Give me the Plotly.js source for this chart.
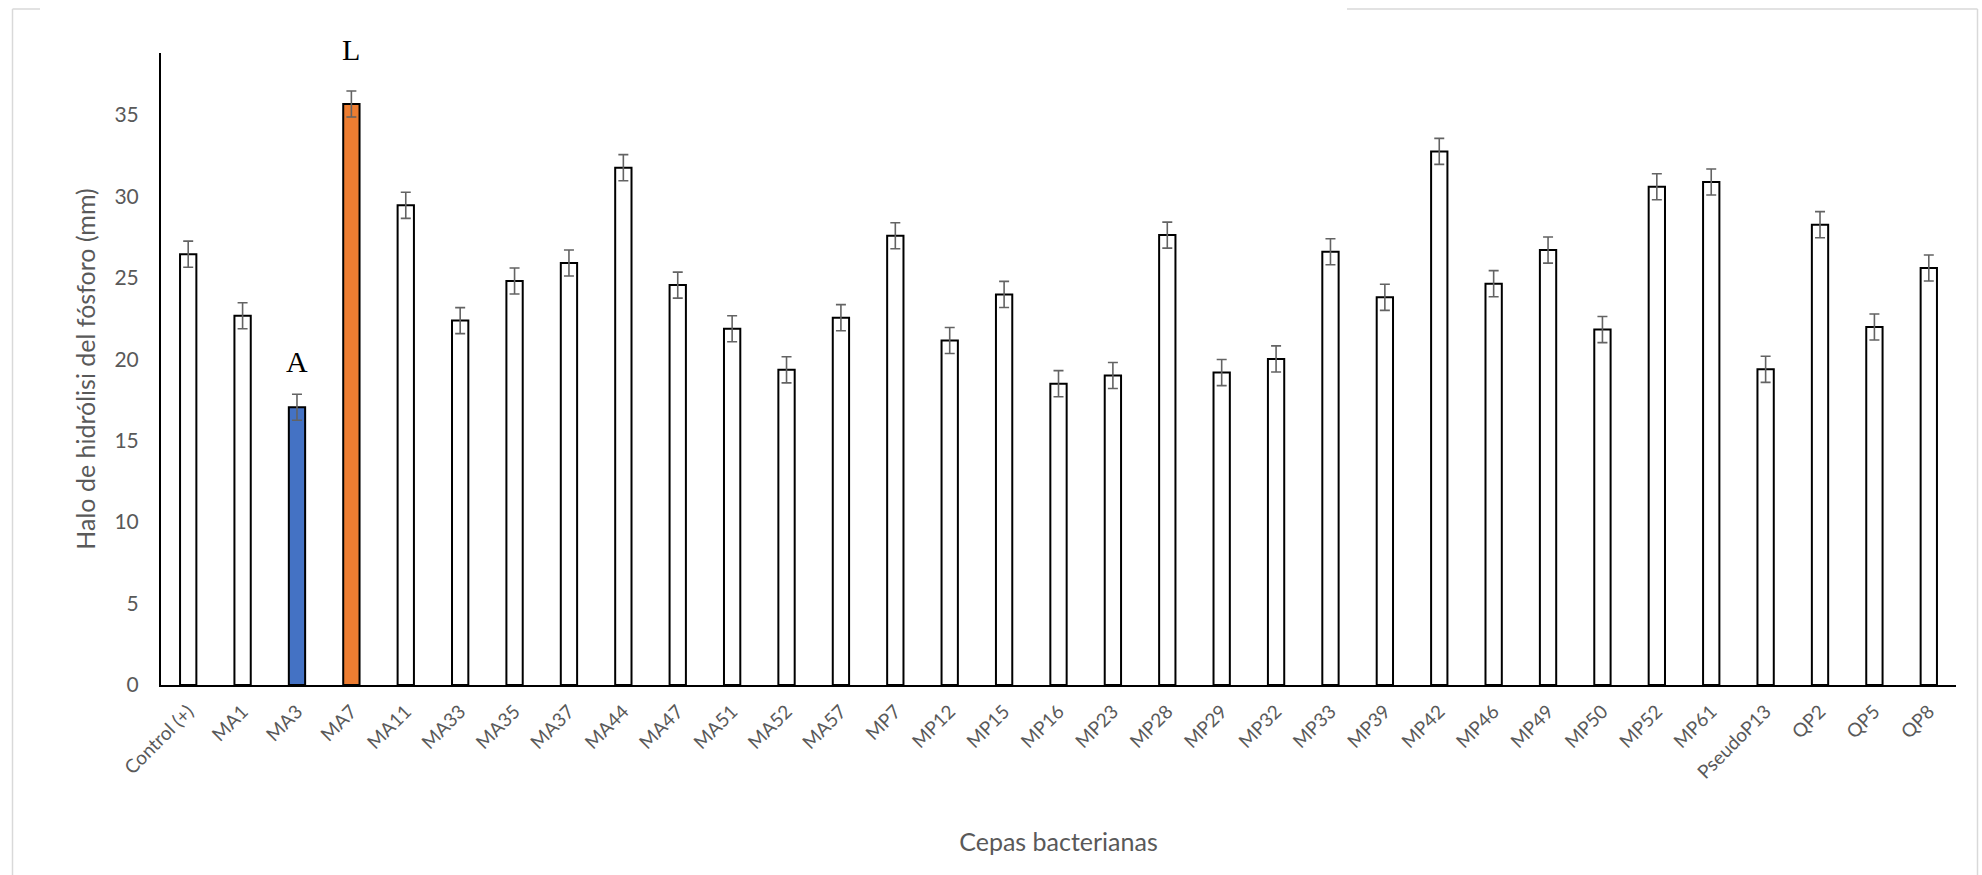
<!DOCTYPE html>
<html>
<head>
<meta charset="utf-8">
<script src="https://cdn.plot.ly/plotly-3.0.1.min.js"></script>
<style>
  html, body { margin: 0; padding: 0; background: #ffffff; }
  #chart { width: 1982px; height: 875px; }
</style>
</head>
<body>
<div id="chart"></div>
<script>
// ---- data ----
const categories = ["Control (+)", "MA1", "MA3", "MA7", "MA11", "MA33", "MA35", "MA37", "MA44", "MA47",
  "MA51", "MA52", "MA57", "MP7", "MP12", "MP15", "MP16", "MP23", "MP28", "MP29", "MP32", "MP33",
  "MP39", "MP42", "MP46", "MP49", "MP50", "MP52", "MP61", "PseudoP13", "QP2", "QP5", "QP8"];
const values = [26.45, 22.67, 17.05, 35.67, 29.45, 22.37, 24.80, 25.91, 31.76, 24.55,
  21.87, 19.35, 22.55, 27.58, 21.15, 23.98, 18.50, 19.00, 27.62, 19.18, 20.02, 26.60,
  23.80, 32.76, 24.64, 26.70, 21.82, 30.59, 30.88, 19.38, 28.26, 21.98, 25.60];
const errors = [0.8, 0.8, 0.8, 0.8, 0.8, 0.8, 0.8, 0.8, 0.8, 0.8,
  0.8, 0.8, 0.8, 0.8, 0.8, 0.8, 0.8, 0.8, 0.8, 0.8, 0.8, 0.8,
  0.8, 0.8, 0.8, 0.8, 0.8, 0.8, 0.8, 0.8, 0.8, 0.8, 0.8];
const letterCategories = ["MA3", "MA7"];
const letters = ["A", "L"];
const yTicks = [0, 5, 10, 15, 20, 25, 30, 35];
const yTitle = "Halo de hidrólisi del fósforo (mm)";
const xTitle = "Cepas bacterianas";

// ---- styles ----
const highlightColors = { "MA3": "#4472C4", "MA7": "#ED7D31" };
const fills = categories.map(c => highlightColors[c] || "#FFFFFF");
const letterShift = { "A": 33, "L": 41 };

const W = 1982, H = 875;
const margin = { l: 161, r: 26, t: 53, b: 190 };
const plotW = W - margin.l - margin.r;
const plotH = H - margin.t - margin.b;
const px = x => (x - margin.l) / plotW;
const py = y => (H - margin.b - y) / plotH;

const frameColor = "#D9D9D9";
const frameLines = [
  [12.5, 9, 12.5, 875],
  [1977.5, 9, 1977.5, 875],
  [12.5, 9, 40, 9],
  [1347, 9, 1977.5, 9]
].map(([x0, y0, x1, y1]) => ({
  type: "line", xref: "paper", yref: "paper",
  x0: px(x0), y0: py(y0), x1: px(x1), y1: py(y1),
  line: { color: frameColor, width: 1.5 }
}));

const trace = {
  type: "bar",
  x: categories,
  y: values,
  marker: { color: fills, line: { color: "#000000", width: 2 } },
  error_y: { type: "data", array: errors, visible: true, color: "#636363", thickness: 1.6, width: 5 },
  cliponaxis: false,
  hoverinfo: "x+y"
};

const annotations = letterCategories.map((c, i) => {
  const idx = categories.indexOf(c);
  return {
    x: c, y: values[idx] + errors[idx], xref: "x", yref: "y",
    text: letters[i], showarrow: false, yanchor: "middle",
    yshift: letterShift[letters[i]],
    font: { family: "Liberation Serif, Times New Roman, serif", size: 30, color: "#000000" }
  };
});

const layout = {
  width: W, height: H,
  margin: margin,
  paper_bgcolor: "#FFFFFF",
  plot_bgcolor: "#FFFFFF",
  showlegend: false,
  bargap: 0.70,
  font: { family: "Lato, 'Open Sans', sans-serif", color: "#595959", size: 19 },
  xaxis: {
    type: "category",
    showline: true, linecolor: "#000000", linewidth: 2,
    showgrid: false, zeroline: false,
    ticks: "", tickangle: -45,
    tickfont: { size: 19, color: "#595959" },
    ticklabelstandoff: 6,
    title: { text: xTitle, font: { size: 25, color: "#595959" }, standoff: 52 },
    automargin: false
  },
  yaxis: {
    range: [0, 38.8],
    tickvals: yTicks,
    showline: true, linecolor: "#000000", linewidth: 2,
    showgrid: false, zeroline: false,
    ticks: "",
    tickfont: { size: 21, color: "#595959" },
    ticklabelstandoff: 16,
    title: { text: yTitle, font: { size: 25, color: "#595959" }, standoff: 12 },
    automargin: false
  },
  shapes: frameLines,
  annotations: annotations
};

Plotly.newPlot("chart", [trace], layout, { displayModeBar: false, staticPlot: true });
</script>
</body>
</html>
